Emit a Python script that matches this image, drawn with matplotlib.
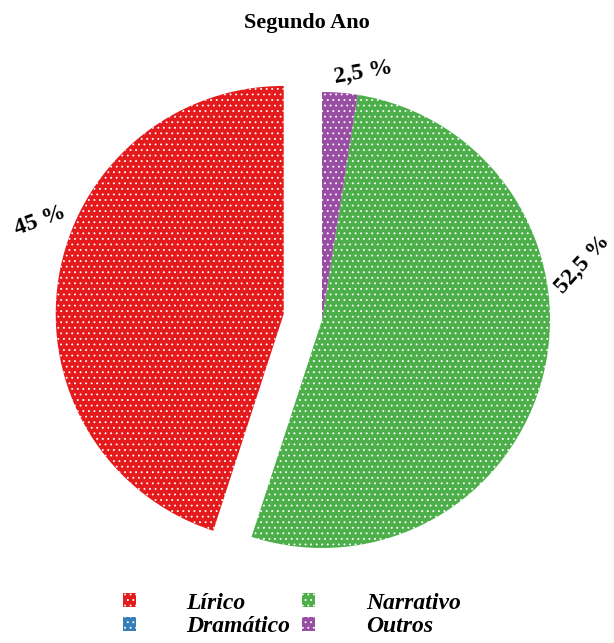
import matplotlib
matplotlib.use("Agg")
import matplotlib.pyplot as plt
import numpy as np

plt.rcParams['font.family'] = ['Liberation Serif', 'DejaVu Serif']
plt.rcParams['hatch.linewidth'] = 0.6

# Data
categories = ['Lírico', 'Dramático', 'Narrativo', 'Outros']
values = [45.0, 0.0, 52.5, 2.5]
labels_txt = ['45 %', '', '52,5 %', '2,5 %']
colors = ['#E41A1C', '#377EB8', '#4DAF4A', '#984EA3']
explode = [0.17, 0, 0, 0]

# label placement: (angle in degrees, radius, rotation)
label_pos = [(160.5, 1.31, 20), None, (12, 1.17, 48), (80.6, 1.10, 10)]

W, H, DPI = 614, 643, 100
fig = plt.figure(figsize=(W / DPI, H / DPI), dpi=DPI)
ax = fig.add_axes([0, 0, 1, 1])
R_PX = 228.0
cx, cy = 322.0, 323.0

wedges, _ = ax.pie(values, colors=colors, startangle=90, counterclock=True,
                   explode=explode, radius=1.0, center=(0, 0),
                   wedgeprops=dict(edgecolor='white', linewidth=0, hatch='...'),
                   frame=True)
ax.set_xlim(-cx / R_PX, (W - cx) / R_PX)
ax.set_ylim(-cy / R_PX, (H - cy) / R_PX)
ax.set_aspect('auto')
ax.axis('off')

for txt, pos in zip(labels_txt, label_pos):
    if pos is None or not txt:
        continue
    ang, r, rot = pos
    a = np.deg2rad(ang)
    ax.text(r * np.cos(a), r * np.sin(a), txt, ha='center', va='center',
            rotation=rot, fontsize=17, fontweight='bold')

fig.text(0.5, 1 - 23 / H, 'Segundo Ano', ha='center', va='center',
         fontsize=16, fontweight='bold')

leg = fig.legend(wedges, categories, ncol=2, loc='center',
                 bbox_to_anchor=(0.475, 1 - 615 / H), frameon=False,
                 prop=dict(size=17, weight='bold', style='italic'),
                 handlelength=0.55, handleheight=0.55, handletextpad=2.15,
                 columnspacing=0.5, labelspacing=0.12, borderpad=0.1)

fig.savefig('out.png', dpi=DPI)
